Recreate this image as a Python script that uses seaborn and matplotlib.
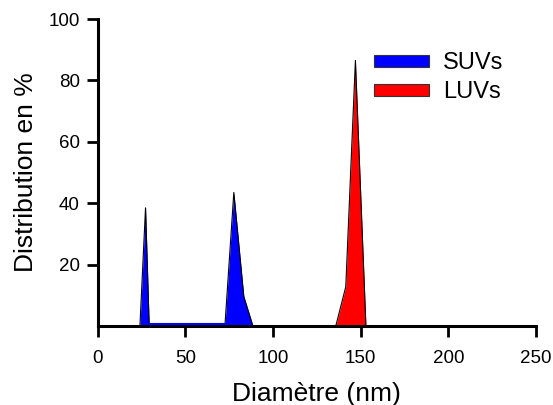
import numpy as np
import pandas as pd
import matplotlib
matplotlib.use("Agg")
import matplotlib.pyplot as plt
import matplotlib.transforms as mtransforms
from matplotlib.patches import Patch
import seaborn as sns

# Size distributions
suv_diam = [24, 27.2, 29.3, 72.5, 77.6, 83.3, 88.5]
suv_dist = [0, 38.5, 0, 0, 43.5, 9.6, 0]
luv_diam = [135.8, 141.5, 147, 153]
luv_dist = [0, 12.8, 86.5, 0]

sns.set_style("ticks")
plt.rcParams['font.family'] = ['Liberation Sans', 'DejaVu Sans']
plt.rcParams.update({"text.color": "black", "axes.labelcolor": "black",
                     "xtick.color": "black", "ytick.color": "black"})

fig = plt.figure(figsize=(5.53, 4.05), dpi=100)
ax = fig.add_axes([0.177, 0.195, 0.792, 0.758])

df_suv = pd.DataFrame({"d": suv_diam, "p": suv_dist})
df_luv = pd.DataFrame({"d": luv_diam, "p": luv_dist})

for df, col in [(df_suv, "blue"), (df_luv, "red")]:
    ax.fill_between(df["d"], 0, df["p"], color=col, linewidth=0)
    sns.lineplot(data=df, x="d", y="p", ax=ax, color="black", lw=0.8, sort=False)

# thin blue strip along the baseline between the two SUV peaks
shift = mtransforms.offset_copy(ax.transData, fig=fig, y=2, units="dots")
ax.plot(suv_diam[2:4], suv_dist[2:4], color="blue", lw=1.5, transform=shift, zorder=3)

ax.set_xlim(0, 250)
ax.set_ylim(0, 100)
ax.set_xticks([0, 50, 100, 150, 200, 250])
ax.set_yticks([20, 40, 60, 80, 100])
ax.set_xlabel("Diamètre (nm)", fontsize=19, labelpad=11)
ax.set_ylabel("Distribution en %", fontsize=19, labelpad=7.5)
ax.tick_params(axis="both", labelsize=13.5, width=2, length=8, direction="out")
ax.tick_params(axis="x", pad=9)
ax.tick_params(axis="y", pad=5)
for s in ["top", "right"]:
    ax.spines[s].set_visible(False)
for s in ["left", "bottom"]:
    ax.spines[s].set_linewidth(2.2)
    ax.spines[s].set_color("black")

handles = [Patch(facecolor="blue", edgecolor="#333333", lw=0.8, label="SUVs"),
           Patch(facecolor="red", edgecolor="#333333", lw=0.8, label="LUVs")]
fig.legend(handles=handles, loc="upper left", bbox_to_anchor=(374 / 553, 1 - 52 / 405),
           frameon=False, fontsize=17, handlelength=2.33, handleheight=0.4,
           handletextpad=0.6, labelspacing=0.3, borderpad=0, borderaxespad=0)

fig.savefig("out.png", dpi=100)
